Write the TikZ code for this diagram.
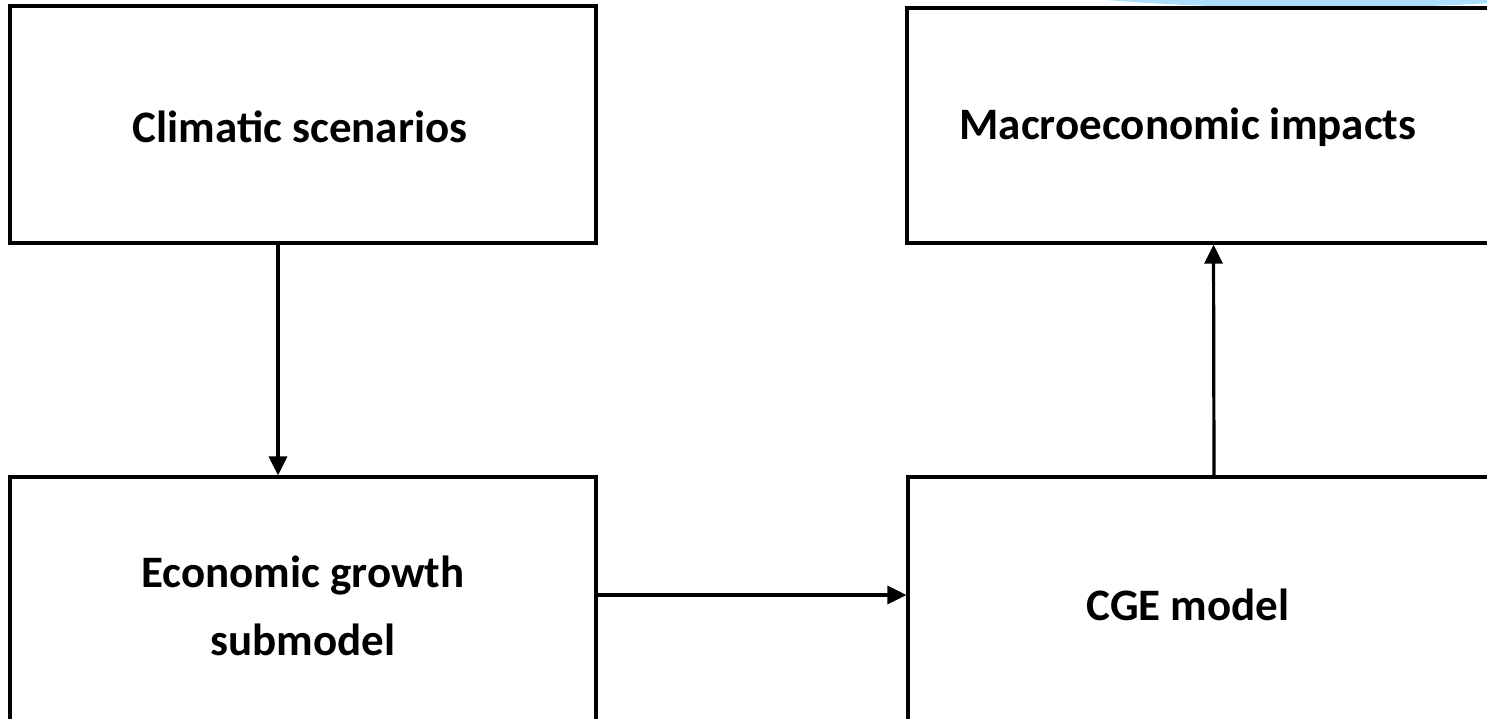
\documentclass[tikz,border=0pt]{standalone}
\usepackage{fontspec}
\setmainfont{Carlito}
\usetikzlibrary{arrows.meta}
\definecolor{skyblue}{RGB}{170,222,252}
\tikzset{
  box/.style={draw=black, line width=3.2pt, fill=white, rectangle, inner sep=0pt},
  lbl/.style={font=\fontsize{45}{68}\selectfont\bfseries, align=center, inner sep=0pt},
  arr/.style={line width=3.2pt, -{Triangle[length=19pt,width=18pt]}}
}
\begin{document}
\begin{tikzpicture}[x=1pt,y=-1pt]
\useasboundingbox (0,0) rectangle (1487,719);
\clip (0,0) rectangle (1487,719);
\fill[skyblue] (1320,-60) ellipse [x radius=453, y radius=68];
\node[box, minimum width=586pt, minimum height=237pt] (clim) at (303,124.5) {};
\node[box, minimum width=613pt, minimum height=235pt] (macro) at (1213.5,125.5) {};
\node[box, minimum width=586pt, minimum height=283pt] (eco) at (303,618.5) {};
\node[box, minimum width=612pt, minimum height=283pt] (cge) at (1214,618.5) {};
\node[lbl] (climt) at (300,127) {Climatic scenarios};
\node[lbl] (macrot) at (1188,127) {Macroeconomic impacts};
\node[lbl] (ecot) at (303,606) {Economic growth\\submodel};
\node[lbl] (cget) at (1188,605) {CGE model};
\draw[arr] ([xshift=-25pt]clim.south) -- ([xshift=-25pt]clim.south |- eco.north);
\draw[arr] ([yshift=23.5pt]eco.east) -- ([yshift=23.5pt]eco.east -| cge.west);
\draw[arr] (cge.north) -- (macro.south);
\end{tikzpicture}
\end{document}
